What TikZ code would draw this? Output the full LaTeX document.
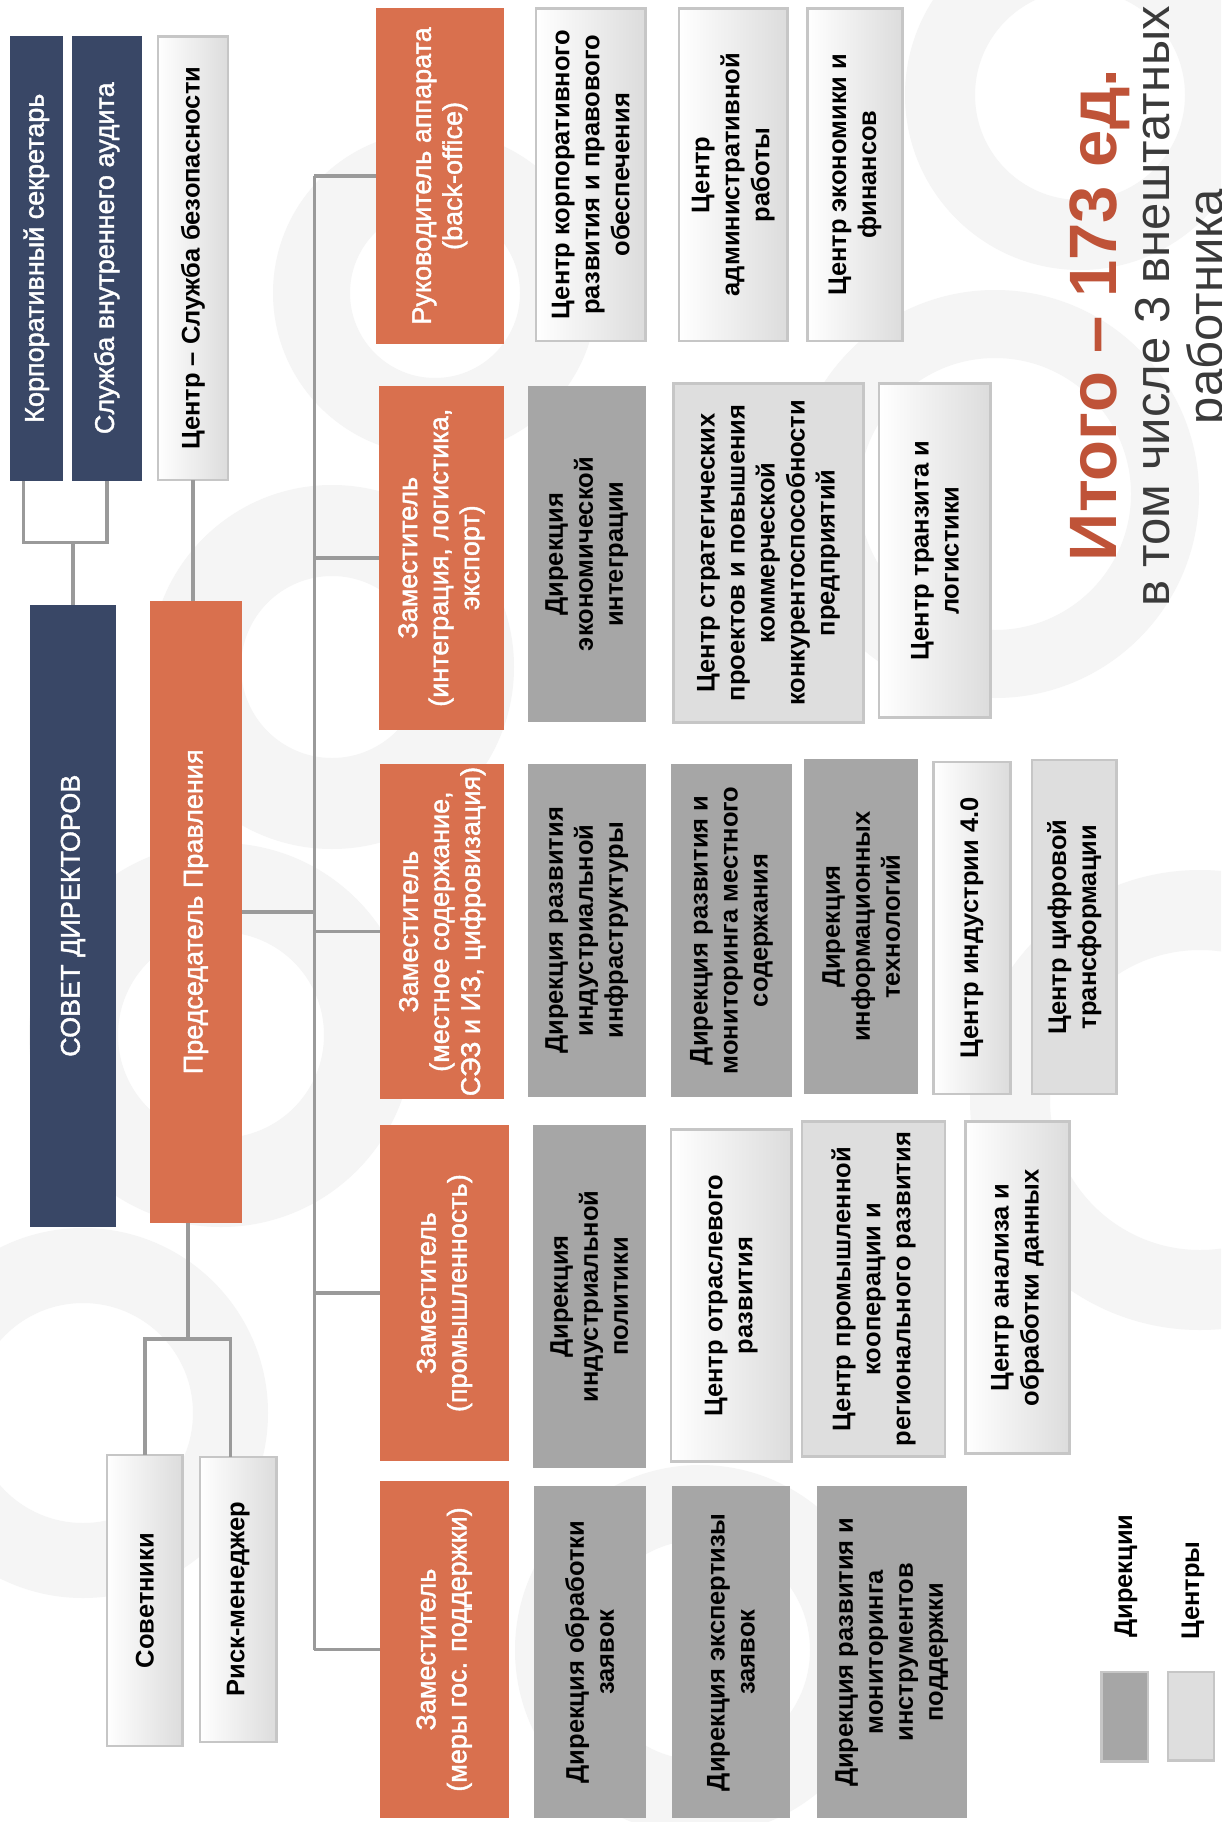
\documentclass[tikz,border=0pt]{standalone}
\usepackage{fontspec}
\setmainfont{Liberation Sans}
\newfontfamily\wfont[FakeBold=1.5]{Liberation Sans}
\usetikzlibrary{calc}
\definecolor{navy}{HTML}{394766}
\definecolor{orng}{HTML}{D9704E}
\definecolor{dgray}{HTML}{A6A6A6}
\definecolor{lgray}{HTML}{DEDEDE}
\definecolor{shadeg}{HTML}{DCDCDC}
\definecolor{bord}{HTML}{C6C6C6}
\definecolor{conncol}{HTML}{9A9A9A}
\definecolor{bigred}{HTML}{BF5338}
\definecolor{txtgray}{HTML}{3A3A3A}
\definecolor{wmark}{HTML}{F5F5F5}
\newcommand{\fw}{\wfont\fontsize{27}{31}\selectfont}
\newcommand{\fb}{\bfseries\fontsize{25.5}{30}\selectfont}
\newcommand{\Bx}[7]{\node[#1,minimum width={#6pt-#4pt},minimum height={#5pt-#3pt}] (#2) at ({(#3+#5)/2},{(#4+#6)/2}) {#7};}
\newcommand{\Ring}[4]{\fill[wmark, even odd rule] (#1,#2) circle[radius=#4pt] (#1,#2) circle[radius=#3pt];}
\tikzset{
  box/.style={rotate=90, align=center, inner sep=2pt, outer sep=0pt},
  navyb/.style={box, fill=navy, text=white, font=\fw},
  orb/.style={box, fill=orng, text=white, font=\fw},
  gradb/.style={box, left color=white, right color=shadeg, draw=bord, line width=2.5pt, font=\fb},
  flatb/.style={box, fill=lgray, draw=bord, line width=2.5pt, font=\fb},
  dirb/.style={box, fill=dgray, font=\fb},
  legb/.style={box, draw=bord, line width=2.5pt},
  conn/.style={draw=conncol, line width=3.5pt},
}
\begin{document}
\begin{tikzpicture}[x=1pt,y=-1pt]
\useasboundingbox (0,0) rectangle (1221,1822);
\clip (0,0) rectangle (1221,1822);
\fill[white] (0,0) rectangle (1221,1822);

% faint background watermark
\Ring{435}{293}{85}{162}
\Ring{332}{667}{91}{182}
\Ring{221}{1035}{103}{192}
\Ring{83}{1413}{110}{185}
\Ring{1080}{95}{105}{175}
\Ring{995}{494}{136}{204}
\Ring{1200}{1100}{150}{230}
\Ring{700}{1650}{110}{185}

% left column
\Bx{navyb}{sec}{9.5}{35.6}{63.3}{480.8}{Корпоративный секретарь}
\Bx{navyb}{aud}{72}{35.6}{141.6}{480.8}{Служба внутреннего аудита}
\Bx{gradb}{sb}{157.8}{36.4}{228.2}{480}{Центр – Служба безопасности}
\Bx{navyb}{sovet}{30}{604.5}{115.9}{1227}{СОВЕТ ДИРЕКТОРОВ}
\Bx{orb}{pred}{150.3}{600.6}{241.6}{1223}{Председатель Правления}
\Bx{gradb}{sovn}{106.8}{1455.2}{182.7}{1745.9}{Советники}
\Bx{gradb}{risk}{200.1}{1456.8}{276.4}{1741.8}{Риск-менеджер}

% deputies
\Bx{orb}{ruk}{375.6}{7.9}{504.2}{344}{Руководитель аппарата\\(back-office)}
\Bx{orb}{zam1}{378.8}{386}{504.2}{729.5}{Заместитель\\(интеграция, логистика,\\экспорт)}
\Bx{orb}{zam2}{380.4}{763.9}{504.2}{1099.2}{Заместитель\\(местное содержание,\\СЭЗ и ИЗ, цифровизация)}
\Bx{orb}{zam3}{380.4}{1124.9}{508.5}{1461.3}{Заместитель\\(промышленность)}
\Bx{orb}{zam4}{380}{1481}{508.5}{1818}{Заместитель\\(меры гос. поддержки)}

% units
\Bx{gradb}{c11}{535.8}{8.7}{645.5}{340.8}{Центр корпоративного\\развития и правового\\обеспечения}
\Bx{gradb}{c12}{679}{8.7}{787.4}{340.8}{Центр\\административной\\работы}
\Bx{gradb}{c13}{807.6}{8.7}{902.5}{340.8}{Центр экономики и\\финансов}

\Bx{dirb}{d21}{527.9}{386}{645.5}{722.3}{Дирекция\\экономической\\интеграции}
\Bx{flatb}{c22}{673.5}{383.6}{863.7}{722.3}{Центр стратегических\\проектов и  повышения\\коммерческой\\конкурентоспособности\\предприятий}
\Bx{gradb}{c23}{879.2}{383.6}{990.7}{717.6}{Центр транзита и\\логистики}

\Bx{dirb}{d31}{527.9}{763.9}{645.5}{1096.8}{Дирекция развития\\индустриальной\\инфраструктуры}
\Bx{dirb}{d32}{671.2}{763.9}{791.8}{1096.8}{Дирекция развития и\\мониторинга местного\\содержания}
\Bx{dirb}{d33}{804}{759.1}{918.3}{1094}{Дирекция\\информационных\\технологий}
\Bx{gradb}{c34}{933.3}{761.9}{1010.4}{1094}{Центр индустрии 4.0}
\Bx{flatb}{c35}{1032.2}{760}{1116.4}{1094}{Центр цифровой\\трансформации}

\Bx{dirb}{d41}{533}{1124.9}{645.5}{1467.9}{Дирекция\\индустриальной\\политики}
\Bx{gradb}{c42}{671.2}{1129.6}{791.4}{1461.7}{Центр отраслевого\\развития}
\Bx{flatb}{c43}{802}{1121.7}{944.8}{1456.4}{Центр промышленной\\кооперации и\\регионального развития}
\Bx{gradb}{c44}{965.4}{1121.7}{1069.4}{1453.5}{Центр анализа и\\обработки данных}

\Bx{dirb}{d51}{533.8}{1486.3}{645.5}{1818}{Дирекция обработки\\заявок}
\Bx{dirb}{d52}{672}{1486.3}{789.8}{1818}{Дирекция экспертизы\\заявок}
\Bx{dirb}{d53}{816.7}{1486.3}{967}{1818}{Дирекция развития и\\мониторинга\\инструментов\\поддержки}

% legend
\Bx{legb,fill=dgray}{legD}{1101.4}{1672.2}{1148}{1761.5}{}
\Bx{legb,fill=lgray}{legC}{1167.8}{1672}{1214}{1760.7}{}
\node[rotate=90, anchor=west, font=\fb, inner sep=0pt] (legDt) at (1126,1638) {Дирекции};
\node[rotate=90, anchor=west, font=\fb, inner sep=0pt] (legCt) at (1193,1640) {Центры};

% totals
\node[rotate=90, anchor=base, text=bigred, font=\bfseries\fontsize{67}{74}\selectfont, inner sep=0pt] (tot) at (1116,315) {Итого – 173 ед.};
\node[rotate=90, anchor=base, text=txtgray, font=\fontsize{49}{54}\selectfont, inner sep=0pt] (tot2) at (1169.4,306.5) {в том числе 3 внештатных};
\node[rotate=90, anchor=base, text=txtgray, font=\fontsize{49}{54}\selectfont, inner sep=0pt] (tot3) at (1222,306.5) {работника};

% connectors
\coordinate (jA) at (73.2,542.5);
\coordinate (secx) at (23.7,0);
\draw[conn] (secx |- sec.west) -- (secx |- jA) -| (aud.west);
\draw[conn] (jA) -- (jA |- sovet.east);
\draw[conn] (sb.west) -- (sb.west |- pred.east);

\coordinate (tr) at (314.4,0);
\draw[conn] (pred.south) -- (pred.south -| tr);
\draw[conn] (ruk.north -| tr) -- (zam4.north -| tr);
\foreach \z in {ruk,zam1,zam2,zam3,zam4} {\draw[conn] (\z.north) -- (\z.north -| tr);}

\coordinate (jP) at (187.8,1338.9);
\coordinate (rx) at (230.5,0);
\draw[conn] (jP |- pred.west) -- (jP);
\draw[conn] (sovn.east) |- (jP) -| (rx |- risk.east);
\end{tikzpicture}
\end{document}
